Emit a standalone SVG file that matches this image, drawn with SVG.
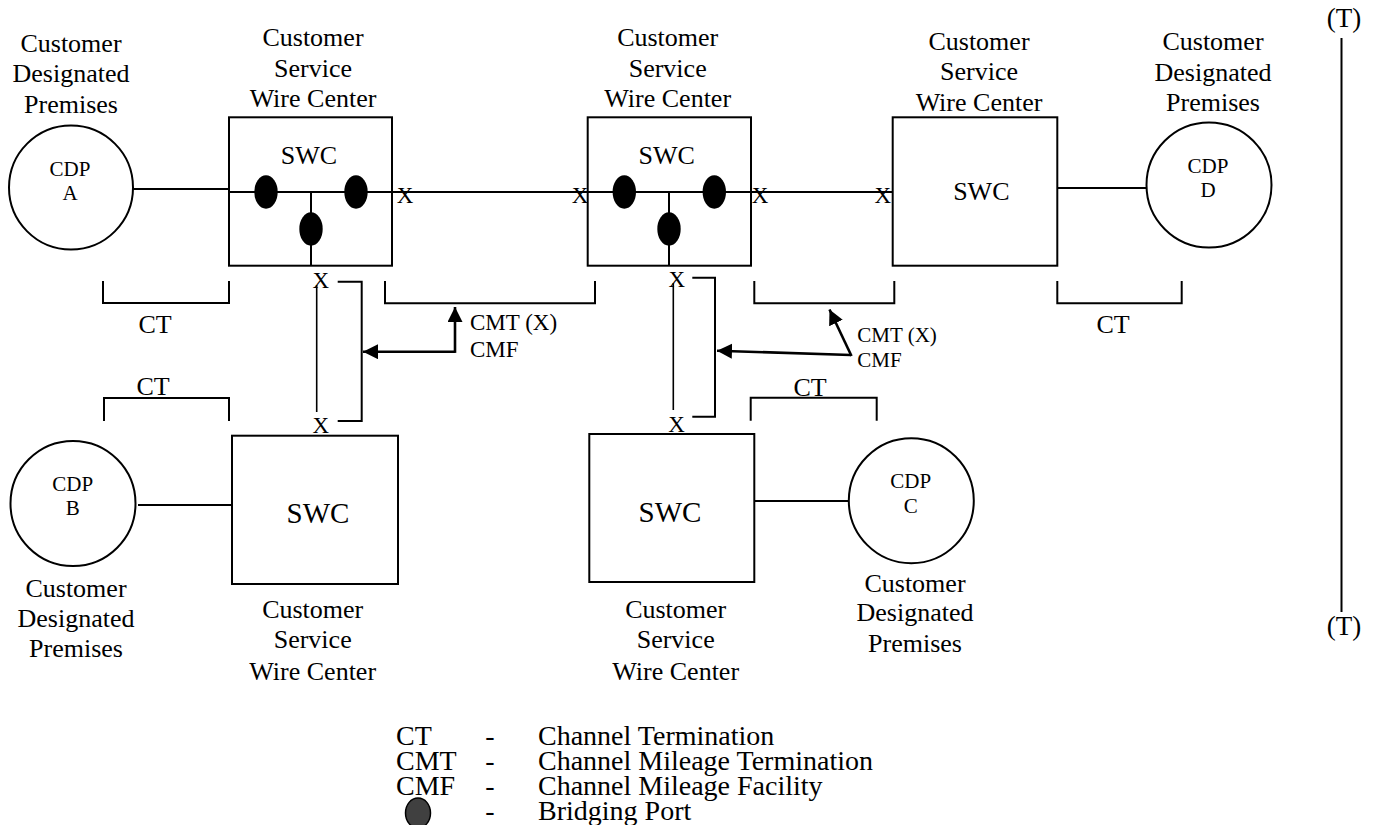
<svg xmlns="http://www.w3.org/2000/svg" width="1374" height="825" viewBox="0 0 1374 825">
<style>
text{font-family:"Liberation Serif","Times New Roman",serif;fill:#000}
.lbl{font-size:26px;text-anchor:middle}
.cdp{font-size:21px;text-anchor:middle}
.swc{font-size:26px;text-anchor:middle}
.swcb{font-size:29px;text-anchor:middle}
.x{font-size:23px;text-anchor:middle}
.ln{stroke:#000;stroke-width:2;fill:none}
.thin{stroke:#000;stroke-width:1.6;fill:none}
.box{stroke:#000;stroke-width:2;fill:#fff}
.port{fill:#000}
.arr{stroke:#000;stroke-width:2.6;fill:none}
.leg{font-size:28px}
.dash{font-size:28px;text-anchor:middle}
</style>
<defs>
<marker id="ah" markerUnits="userSpaceOnUse" markerWidth="16" markerHeight="16" viewBox="0 0 16 16" refX="15" refY="7.5" orient="auto">
<path d="M0,0 L15,7.5 L0,15 Z" fill="#000"/>
</marker>
</defs>

<g id="connectors">
<line class="ln" x1="133" y1="189" x2="229" y2="189"/>
<line class="ln" x1="392" y1="192" x2="588" y2="192"/>
<line class="ln" x1="751" y1="192" x2="893" y2="192"/>
<line class="ln" x1="1057" y1="188" x2="1147" y2="188"/>
<line class="ln" x1="138" y1="505" x2="232" y2="505"/>
<line class="ln" x1="754" y1="501" x2="849" y2="501"/>
<line class="thin" x1="316.7" y1="285" x2="316.7" y2="412"/>
<line class="thin" x1="673.3" y1="283" x2="673.3" y2="410"/>
<path class="ln" d="M337.7,281.7 H361.7 V421 H337.7"/>
<path class="ln" d="M692.3,277.7 H715 V416.7 H692.3"/>
<path class="arr" d="M455,351.7 H363" marker-end="url(#ah)"/>
<path class="arr" d="M455,352.9 V307" marker-end="url(#ah)"/>
<path class="arr" d="M850.7,355 L717,350.7" marker-end="url(#ah)"/>
<path class="arr" d="M851.5,356 L829.5,309.5" marker-end="url(#ah)"/>
<text class="x" x="405" y="203">X</text>
<text class="x" x="580" y="203">X</text>
<text class="x" x="760" y="203">X</text>
<text class="x" x="882.7" y="203">X</text>
<text class="x" x="320.7" y="288">X</text>
<text class="x" x="320.7" y="433">X</text>
<text class="x" x="676.7" y="286.7">X</text>
<text class="x" x="676.5" y="431.7">X</text>
<text x="470" y="330" style="font-size:23px">CMT (X)</text>
<text x="470" y="356.7" style="font-size:23px">CMF</text>
<text x="857.3" y="341.7" style="font-size:21px">CMT (X)</text>
<text x="857.3" y="366.7" style="font-size:21px">CMF</text>
</g>

<g id="brackets">
<path class="ln" d="M103,281 V303 H229 V281"/>
<text class="lbl" x="155" y="333">CT</text>
<path class="ln" d="M385,281 V303.3 H595 V281"/>
<path class="ln" d="M754.3,281 V303.3 H894.3 V281"/>
<path class="ln" d="M1057.3,281 V303.3 H1181.7 V281"/>
<text class="lbl" x="1113" y="333">CT</text>
<path class="ln" d="M104,421 V398 H229 V421"/>
<text class="lbl" x="153" y="395">CT</text>
<path class="ln" d="M750.7,420.7 V397.7 H876.7 V420.7"/>
<text class="lbl" x="810" y="396">CT</text>
</g>

<g id="cdpA">
<circle class="ln" cx="71" cy="187.5" r="62"/>
<text class="cdp" x="70" y="176">CDP</text>
<text class="cdp" x="70" y="200">A</text>
<text class="lbl" x="71" y="52">Customer</text>
<text class="lbl" x="71" y="82">Designated</text>
<text class="lbl" x="71" y="113">Premises</text>
</g>

<g id="swc1">
<rect class="box" x="229" y="117.3" width="163" height="148.4"/>
<line class="ln" x1="229" y1="192" x2="392" y2="192"/>
<line class="ln" x1="311" y1="192" x2="311" y2="265.7"/>
<ellipse class="port" cx="266" cy="192" rx="11.7" ry="16.7"/>
<ellipse class="port" cx="356" cy="192" rx="11.7" ry="16.7"/>
<ellipse class="port" cx="311" cy="229" rx="11.7" ry="16.7"/>
<text class="swc" x="309" y="164">SWC</text>
<text class="lbl" x="313" y="46">Customer</text>
<text class="lbl" x="313" y="77">Service</text>
<text class="lbl" x="313" y="107">Wire Center</text>
</g>

<g id="swc2">
<rect class="box" x="587.7" y="117.3" width="163.3" height="148.4"/>
<line class="ln" x1="587.7" y1="192" x2="751" y2="192"/>
<line class="ln" x1="669" y1="192" x2="669" y2="265.7"/>
<ellipse class="port" cx="624.3" cy="192" rx="11.7" ry="16.7"/>
<ellipse class="port" cx="714.3" cy="192" rx="11.7" ry="16.7"/>
<ellipse class="port" cx="669" cy="229" rx="11.7" ry="16.7"/>
<text class="swc" x="666.7" y="164">SWC</text>
<text class="lbl" x="667.7" y="46">Customer</text>
<text class="lbl" x="667.7" y="77">Service</text>
<text class="lbl" x="667.7" y="107">Wire Center</text>
</g>

<g id="swcD">
<rect class="box" x="892.7" y="117.3" width="164.6" height="148.4"/>
<text class="swc" x="981.3" y="200">SWC</text>
<text class="lbl" x="979" y="50">Customer</text>
<text class="lbl" x="979" y="80">Service</text>
<text class="lbl" x="979" y="110.7">Wire Center</text>
</g>

<g id="cdpD">
<circle class="ln" cx="1209" cy="185" r="62.5"/>
<text class="cdp" x="1208" y="172.7">CDP</text>
<text class="cdp" x="1208" y="196.7">D</text>
<text class="lbl" x="1213" y="50">Customer</text>
<text class="lbl" x="1213" y="81">Designated</text>
<text class="lbl" x="1213" y="111">Premises</text>
</g>

<g id="cdpB">
<circle class="ln" cx="73" cy="503.5" r="62.5"/>
<text class="cdp" x="72.7" y="490.7">CDP</text>
<text class="cdp" x="72.7" y="515">B</text>
<text class="lbl" x="76" y="596.7">Customer</text>
<text class="lbl" x="76" y="626.7">Designated</text>
<text class="lbl" x="76" y="657.3">Premises</text>
</g>

<g id="swcB">
<rect class="box" x="232" y="435.7" width="166" height="148.3"/>
<text class="swcb" x="318" y="522.7">SWC</text>
<text class="lbl" x="312.7" y="618.3">Customer</text>
<text class="lbl" x="312.7" y="648.3">Service</text>
<text class="lbl" x="312.7" y="680">Wire Center</text>
</g>

<g id="swcC">
<rect class="box" x="589.3" y="434" width="165" height="148"/>
<text class="swcb" x="670" y="521.7">SWC</text>
<text class="lbl" x="675.7" y="618.3">Customer</text>
<text class="lbl" x="675.7" y="648.3">Service</text>
<text class="lbl" x="675.7" y="680">Wire Center</text>
</g>

<g id="cdpC">
<circle class="ln" cx="911.3" cy="500.7" r="62.5"/>
<text class="cdp" x="910.7" y="488.3">CDP</text>
<text class="cdp" x="910.7" y="513.3">C</text>
<text class="lbl" x="915" y="591.7">Customer</text>
<text class="lbl" x="915" y="620.7">Designated</text>
<text class="lbl" x="915" y="651.7">Premises</text>
</g>

<g id="tmarker">
<text x="1344" y="26.7" style="font-size:27px;text-anchor:middle">(T)</text>
<line class="ln" x1="1341.5" y1="38" x2="1341.5" y2="612"/>
<text x="1344" y="635" style="font-size:27px;text-anchor:middle">(T)</text>
</g>

<g id="legend">
<text class="leg" x="396" y="745">CT</text>
<text class="dash" x="490" y="745">-</text>
<text class="leg" x="538" y="745">Channel Termination</text>
<text class="leg" x="396" y="770">CMT</text>
<text class="dash" x="490" y="770">-</text>
<text class="leg" x="538" y="770">Channel Mileage Termination</text>
<text class="leg" x="396" y="795">CMF</text>
<text class="dash" x="490" y="795">-</text>
<text class="leg" x="538" y="795">Channel Mileage Facility</text>
<ellipse cx="418" cy="813" rx="12.5" ry="15" fill="#404040" stroke="#000" stroke-width="1.5"/>
<text class="dash" x="490" y="820">-</text>
<text class="leg" x="538" y="820">Bridging Port</text>
</g>
</svg>
